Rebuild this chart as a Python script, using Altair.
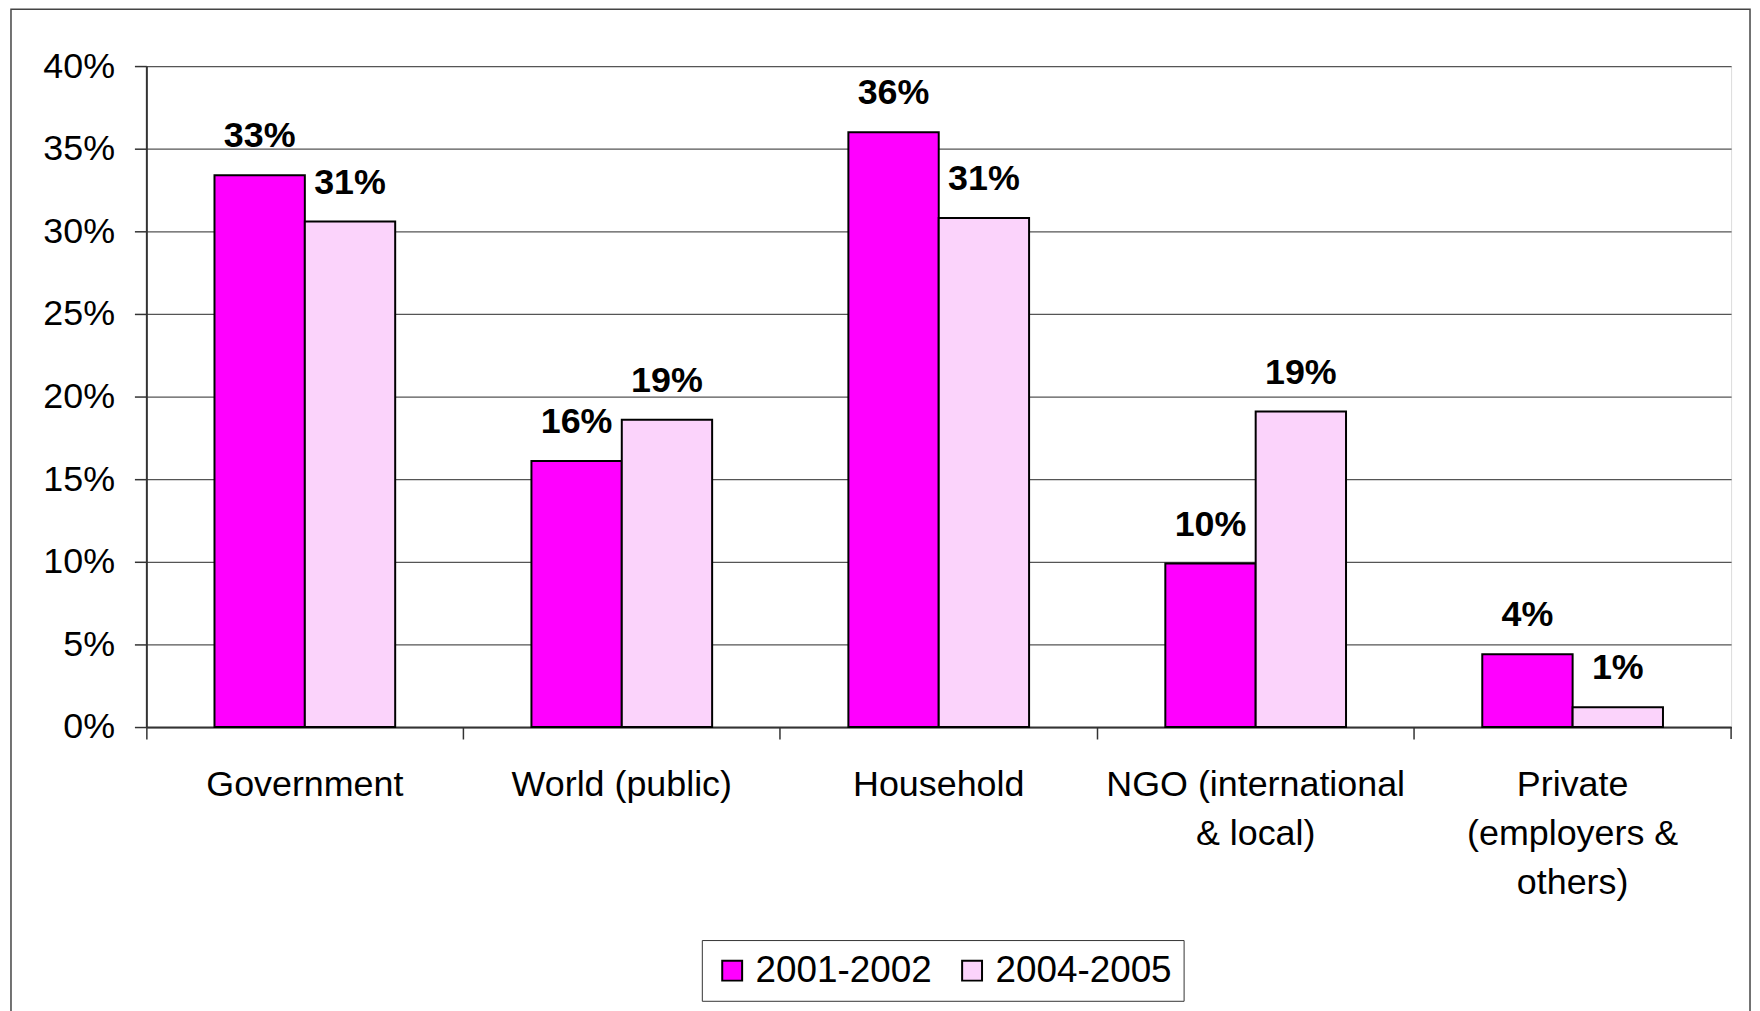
import altair as alt
import pandas as pd

categories = ["Government", "World (public)", "Household", "NGO (international|& local)", "Private|(employers &|others)"]
series = ["2001-2002", "2004-2005"]
values_2001 = [0.334, 0.161, 0.360, 0.099, 0.044]
values_2004 = [0.306, 0.186, 0.308, 0.191, 0.012]
y_ticks = [0, 0.05, 0.10, 0.15, 0.20, 0.25, 0.30, 0.35, 0.40]
colors = ["#ff00ff", "#fbd3fb"]

rows = []
for c, a, b in zip(categories, values_2001, values_2004):
    rows.append({"cat": c, "period": series[0], "v": a})
    rows.append({"cat": c, "period": series[1], "v": b})
df = pd.DataFrame(rows)

W, H = 1592, 664
FONT = "Liberation Sans"

xenc = alt.X("cat:N", sort=categories, title=None,
             scale=alt.Scale(paddingInner=0, paddingOuter=0),
             axis=alt.Axis(labelExpr="split(datum.label, '|')", labelAngle=0,
                           labelFontSize=36, labelFont=FONT, labelColor="black",
                           labelPadding=29, labelLineHeight=49, labelBaseline="top",
                           labelLimit=0,
                           bandPosition=0, tickSize=12, tickColor="#333", tickWidth=1.5,
                           domainColor="#333", domainWidth=2, grid=False))
xoff = alt.XOffset("period:N", sort=series, scale=alt.Scale(paddingOuter=0.754, paddingInner=0))

base = alt.Chart(df)

bars = base.mark_bar(stroke="black", strokeWidth=2).encode(
    x=xenc,
    xOffset=xoff,
    y=alt.Y("v:Q", title=None,
            scale=alt.Scale(domain=[0, 0.4], nice=False),
            axis=alt.Axis(values=y_ticks, format=".0%", labelFontSize=36, labelFont=FONT,
                          labelColor="black", labelPadding=20, tickSize=12, tickColor="#333",
                          tickWidth=1.5, domainColor="#333", domainWidth=2,
                          grid=True, gridColor="#555", gridWidth=1.2)),
    color=alt.Color("period:N", sort=series, scale=alt.Scale(domain=series, range=colors),
                    legend=alt.Legend(title=None, orient="none", legendX=558, legendY=878,
                                      direction="horizontal", columns=2,
                                      symbolType="square", symbolSize=400,
                                      symbolStrokeColor="black", symbolStrokeWidth=2,
                                      symbolOpacity=1, labelLimit=0,
                                      labelFontSize=37, labelFont=FONT, labelColor="black",
                                      labelOffset=5, columnPadding=22,
                                      strokeColor="#333", padding=12)),
)

labels = base.mark_text(fontSize=36, font=FONT, fontWeight="bold", baseline="bottom",
                        dy=-20, color="black").encode(
    x=alt.X("cat:N", sort=categories),
    xOffset=xoff,
    y="v:Q",
    text=alt.Text("v:Q", format=".0%"),
)

last_tick = alt.Chart(pd.DataFrame({"a": [0]})).mark_rule(color="#333", strokeWidth=1.5).encode(
    x=alt.value(W), y=alt.value(H), y2=alt.value(H + 12))

frame = alt.Chart(pd.DataFrame({"a": [0]})).mark_rect(fill=None, stroke="#444", strokeWidth=1.5).encode(
    x=alt.value(-136), x2=alt.value(1611), y=alt.value(-57), y2=alt.value(980))

chart = alt.layer(frame, bars, labels, last_tick).properties(
    width=W, height=H,
    autosize=alt.AutoSizeParams(type="none"),
    padding={"left": 139, "top": 56, "right": 21, "bottom": 300},
).configure_view(stroke="#808080", strokeWidth=2.5).configure(background="white")

chart.save("out.html", embed_options={"renderer": "svg", "actions": False})
